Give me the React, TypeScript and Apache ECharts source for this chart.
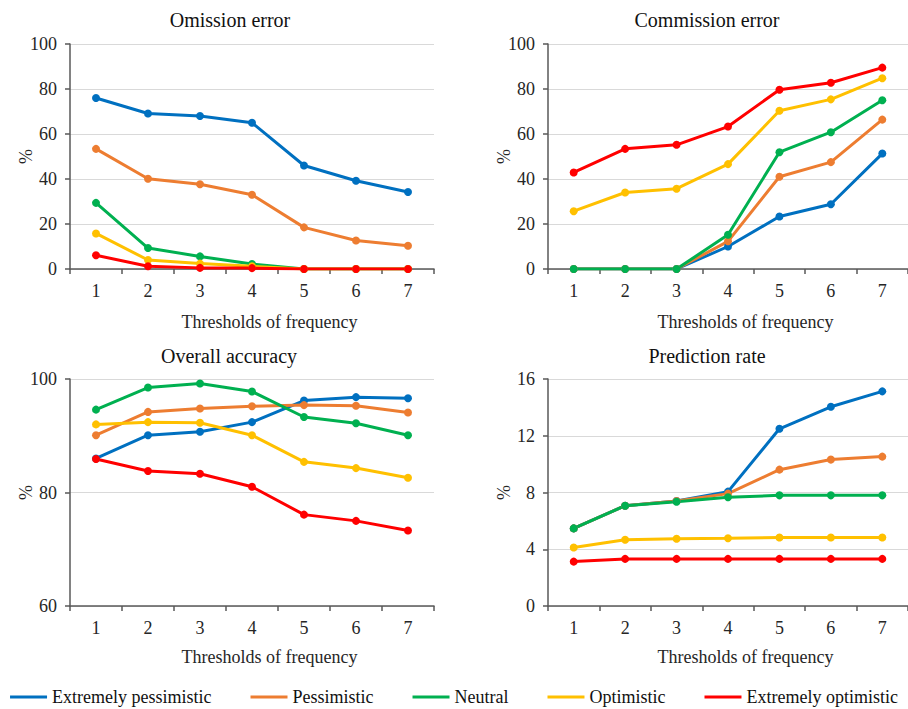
import React, { useEffect, useRef } from "react";
import * as echarts from "echarts";

const categories = ["1", "2", "3", "4", "5", "6", "7"];
const seriesNames = [
  "Extremely pessimistic",
  "Pessimistic",
  "Neutral",
  "Optimistic",
  "Extremely optimistic",
];
const colors = ["#0070C0", "#ED7D31", "#00B050", "#FFC000", "#FF0000"];

const omissionEP = [76, 69.1, 68, 65, 46, 39.2, 34.2];
const omissionP = [53.4, 40.1, 37.7, 33, 18.5, 12.7, 10.3];
const omissionN = [29.4, 9.3, 5.6, 2.2, 0, 0, 0];
const omissionO = [15.8, 4, 2.4, 1.2, 0, 0, 0];
const omissionEO = [6.1, 1.2, 0.5, 0.4, 0, 0, 0];

const commissionEP = [0, 0, 0, 10, 23.3, 28.8, 51.3];
const commissionP = [0, 0, 0, 12.3, 41, 47.5, 66.4];
const commissionN = [0, 0, 0, 15.2, 51.9, 60.8, 75];
const commissionO = [25.7, 34, 35.7, 46.6, 70.3, 75.4, 84.8];
const commissionEO = [42.9, 53.4, 55.2, 63.3, 79.7, 82.8, 89.5];

const accuracyEP = [86, 90.1, 90.7, 92.4, 96.2, 96.8, 96.6];
const accuracyP = [90.1, 94.2, 94.8, 95.2, 95.4, 95.3, 94.1];
const accuracyN = [94.6, 98.5, 99.2, 97.8, 93.3, 92.2, 90.1];
const accuracyO = [92, 92.4, 92.3, 90.1, 85.4, 84.3, 82.6];
const accuracyEO = [85.9, 83.8, 83.3, 81, 76.1, 75, 73.3];

const predictionEP = [5.47, 7.07, 7.4, 8.06, 12.49, 14.04, 15.13];
const predictionP = [5.47, 7.07, 7.4, 7.92, 9.61, 10.32, 10.53];
const predictionN = [5.47, 7.07, 7.35, 7.66, 7.8, 7.8, 7.8];
const predictionO = [4.12, 4.67, 4.74, 4.78, 4.83, 4.83, 4.83];
const predictionEO = [3.13, 3.32, 3.32, 3.32, 3.32, 3.32, 3.32];

const panelTitles = ["Omission error", "Commission error", "Overall accuracy", "Prediction rate"];
const xAxisName = "Thresholds of frequency";
const yAxisName = "%";
const yMins = [0, 0, 60, 0];
const yMaxs = [100, 100, 100, 16];
const yIntervals = [20, 20, 20, 4];

const panelData = [
  [omissionEP, omissionP, omissionN, omissionO, omissionEO],
  [commissionEP, commissionP, commissionN, commissionO, commissionEO],
  [accuracyEP, accuracyP, accuracyN, accuracyO, accuracyEO],
  [predictionEP, predictionP, predictionN, predictionO, predictionEO],
];

const FONT = "Liberation Serif";
const TEXT = "#262626";
const AXIS = "#595959";

const grids = [
  { left: 70, top: 44, width: 364, height: 225 },
  { left: 548, top: 44, width: 363, height: 225 },
  { left: 70, top: 379, width: 364, height: 227 },
  { left: 548, top: 379, width: 363, height: 227 },
];
const titlePos = [
  { left: 230, top: 10 },
  { left: 707, top: 10 },
  { left: 229, top: 346 },
  { left: 707, top: 346 },
];

export default function App() {
  const ref = useRef<HTMLDivElement>(null);

  useEffect(() => {
    if (!ref.current) return;
    const chart = echarts.init(ref.current, null, { renderer: "svg" });

    const series: any[] = [];
    panelData.forEach((panel, gi) => {
      panel.forEach((vals, si) => {
        series.push({
          type: "line",
          name: seriesNames[si],
          xAxisIndex: gi,
          yAxisIndex: gi,
          data: vals,
          symbol: "circle",
          symbolSize: 8,
          lineStyle: { color: colors[si], width: 3 },
          itemStyle: { color: colors[si] },
          emphasis: { disabled: true },
        });
      });
    });

    chart.setOption({
      animation: false,
      backgroundColor: "#ffffff",
      textStyle: { fontFamily: FONT },
      title: panelTitles.map((t, i) => ({
        text: t,
        left: titlePos[i].left,
        top: titlePos[i].top,
        textAlign: "center",
        padding: 0,
        textStyle: { fontFamily: FONT, fontSize: 20, fontWeight: "normal", color: "#111" },
      })),
      legend: {
        data: seriesNames.map((n) => ({ name: n, icon: "rect" })),
        left: "center",
        top: 683,
        itemWidth: 37,
        itemHeight: 3,
        itemGap: 39,
        textStyle: { fontFamily: FONT, fontSize: 18, color: "#111" },
      },
      grid: grids.map((g) => ({ ...g, containLabel: false })),
      xAxis: grids.map((_, i) => ({
        type: "category",
        gridIndex: i,
        data: categories,
        boundaryGap: true,
        name: xAxisName,
        nameLocation: "middle",
        nameGap: i < 2 ? 44 : 42,
        nameMoveOverlap: false,
        nameTextStyle: { fontFamily: FONT, fontSize: 18, color: TEXT, padding: [0, 0, 0, 35] },
        axisLine: { show: true, lineStyle: { color: AXIS, width: 1.5 } },
        axisTick: { show: true, alignWithLabel: false, length: 5, inside: false, lineStyle: { color: AXIS, width: 1.5 } },
        axisLabel: { fontFamily: FONT, fontSize: 18, color: TEXT, margin: 13 },
        splitLine: { show: false },
      })),
      yAxis: grids.map((_, i) => ({
        type: "value",
        gridIndex: i,
        min: yMins[i],
        max: yMaxs[i],
        interval: yIntervals[i],
        name: yAxisName,
        nameLocation: "middle",
        nameGap: 35,
        nameMoveOverlap: false,
        nameRotate: 90,
        nameTextStyle: { fontFamily: FONT, fontSize: 18, color: TEXT },
        axisLine: { show: true, lineStyle: { color: AXIS, width: 1.5 } },
        axisTick: { show: true, length: 5, lineStyle: { color: AXIS, width: 1.5 } },
        axisLabel: { fontFamily: FONT, fontSize: 18, color: TEXT, margin: 13 },
        splitLine: { show: true, lineStyle: { color: "#d9d9d9", width: 1 } },
      })),
      series,
    });

    return () => chart.dispose();
  }, []);

  return (
    <div
      ref={ref}
      style={{ position: "fixed", left: 0, top: 0, width: 908, height: 709, background: "#fff" }}
    />
  );
}
